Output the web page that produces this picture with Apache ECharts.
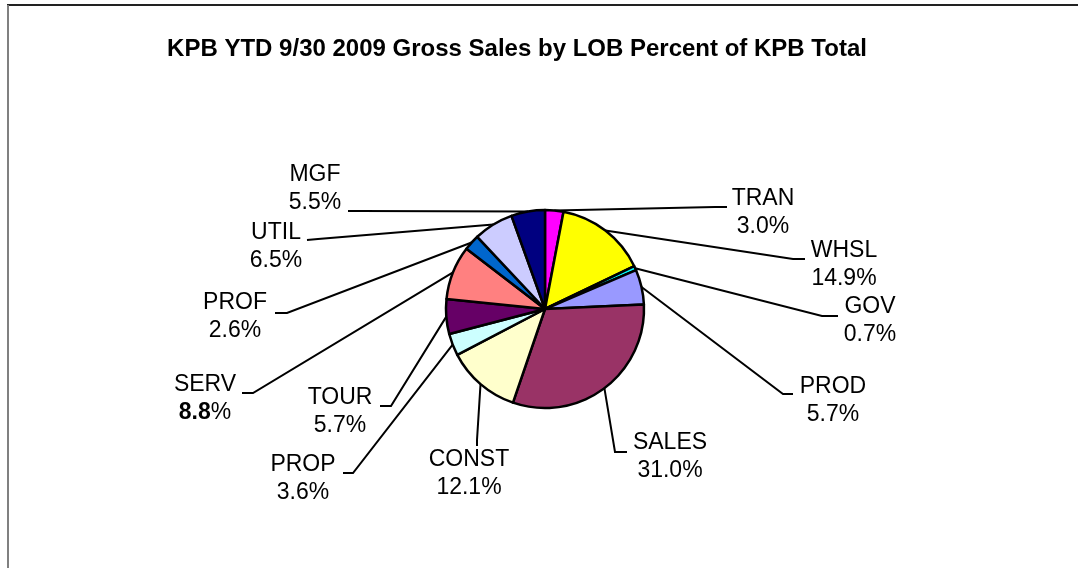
<!DOCTYPE html>
<html>
<head>
<meta charset="utf-8">
<script src="https://cdn.jsdelivr.net/npm/echarts@6/dist/echarts.min.js"></script>
<style>
  html, body { margin: 0; padding: 0; background: #fff; }
  #chart { width: 1078px; height: 568px; }
</style>
</head>
<body>
<div id="chart"></div>
<script>
// data, clockwise from 12 o'clock
const names = ['TRAN', 'WHSL', 'GOV', 'PROD', 'SALES', 'CONST', 'PROP', 'TOUR', 'SERV', 'PROF', 'UTIL', 'MGF'];
const percents = [3.0, 14.9, 0.7, 5.7, 31.0, 12.1, 3.6, 5.7, 8.8, 2.6, 6.5, 5.5];
const colors = ['#FF00FF', '#FFFF00', '#00FFFF', '#9999FF', '#993366', '#FFFFCC',
  '#CCFFFF', '#660066', '#FF8080', '#0066CC', '#CCCCFF', '#000080'];

// where each label sits: text centre, leader elbow, leader end
const labelSpots = [
  { c: [763, 213], e: [715, 207], t: [727, 207] },
  { c: [844, 265], e: [793, 259], t: [805, 259] },
  { c: [870, 321], e: [822, 316], t: [838, 316] },
  { c: [833, 401], e: [783, 394], t: [793, 394] },
  { c: [670, 457], e: [615, 452], t: [627, 452] },
  { c: [469, 474], e: [477, 440], t: [477, 446] },
  { c: [303, 479], e: [353, 473], t: [343, 473] },
  { c: [340, 412], e: [391, 406], t: [380, 406] },
  { c: [205, 399], e: [253, 393], t: [242, 393] },
  { c: [235, 317], e: [287, 313], t: [275, 313] },
  { c: [276, 247], e: [318, 239], t: [307, 240] },
  { c: [315, 189], e: [360, 211], t: [348, 211] }
];

const pieData = names.map(function (n, i) {
  return { name: n, value: percents[i], itemStyle: { color: colors[i] } };
});

const myChart = echarts.init(document.getElementById('chart'));

const option = {
  backgroundColor: '#fff',
  animation: false,
  title: {
    text: 'KPB YTD 9/30 2009 Gross Sales by LOB Percent of KPB Total',
    left: 512,
    top: 32,
    textAlign: 'center',
    textStyle: {
      fontFamily: 'Liberation Sans, Arial, sans-serif',
      fontSize: 24,
      fontWeight: 'bold',
      color: '#000'
    }
  },
  graphic: [
    { type: 'line', shape: { x1: 7, y1: 5, x2: 1078, y2: 5 }, style: { stroke: '#222', lineWidth: 2 } },
    { type: 'line', shape: { x1: 8, y1: 5, x2: 8, y2: 568 }, style: { stroke: '#808080', lineWidth: 2 } }
  ],
  series: [
    {
      type: 'pie',
      center: [545, 309],
      radius: 99,
      startAngle: 90,
      clockwise: true,
      avoidLabelOverlap: false,
      data: pieData,
      itemStyle: {
        borderColor: '#000',
        borderWidth: 2.5
      },
      emphasis: { disabled: true },
      label: {
        show: true,
        position: 'outside',
        fontFamily: 'Liberation Sans, Arial, sans-serif',
        fontSize: 23,
        lineHeight: 28,
        color: '#000',
        align: 'center',
        formatter: function (p) {
          if (p.name === 'SERV') {
            return p.name + '\n{b|' + p.value.toFixed(1) + '}%';
          }
          return p.name + '\n' + p.value.toFixed(1) + '%';
        },
        rich: {
          b: { fontFamily: 'Liberation Sans, Arial, sans-serif', fontSize: 23, fontWeight: 'bold', color: '#000' }
        }
      },
      labelLine: {
        show: true,
        length: 10,
        length2: 10,
        lineStyle: { color: '#000', width: 2 }
      },
      labelLayout: function (params) {
        const s = labelSpots[params.dataIndex];
        const start = params.labelLinePoints ? params.labelLinePoints[0] : s.e;
        return {
          x: s.c[0],
          y: s.c[1],
          align: 'center',
          verticalAlign: 'middle',
          labelLinePoints: [start, s.e, s.t]
        };
      }
    }
  ]
};

myChart.setOption(option);
window.onresize = myChart.resize;
</script>
</body>
</html>
